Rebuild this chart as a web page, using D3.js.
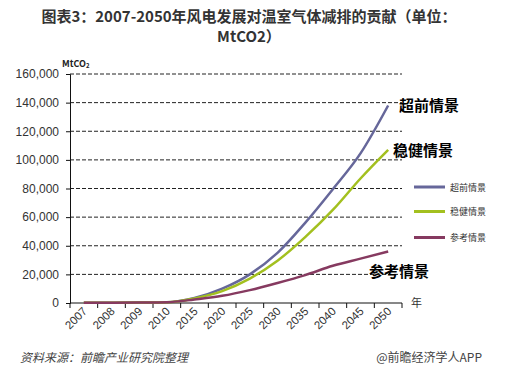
<!DOCTYPE html>
<html>
<head>
<meta charset="utf-8">
<script src="https://cdn.jsdelivr.net/npm/d3@7"></script>
<style>
  body { margin: 0; background: #fff; }
  text { font-family: "Noto Sans CJK SC", "Liberation Sans", sans-serif; }
</style>
</head>
<body>
<div id="chart"></div>
<script>
// data (MtCO2)
var years = ["2007","2008","2009","2010","2015","2020","2025","2030","2035","2040","2045","2050"];
var advanced = [100, 200, 300, 500, 3500, 10000, 20000, 35000, 56000, 79500, 104500, 138000];
var moderate = [100, 200, 300, 500, 3200, 8300, 17000, 29500, 46000, 65000, 87000, 107000];
var reference = [100, 200, 300, 500, 2500, 5000, 9000, 14000, 19500, 26000, 31000, 36000];
var seriesNames = ["超前情景", "稳健情景", "参考情景"];
var colors = ["#66679a", "#a3c01f", "#863a60"];
var yTicks = [0, 20000, 40000, 60000, 80000, 100000, 120000, 140000, 160000];

var W = 506, H = 384;
var svg = d3.select("#chart").append("svg")
    .attr("width", W).attr("height", H);

// title
svg.append("text")
    .attr("x", 249).attr("y", 22)
    .attr("text-anchor", "middle")
    .style("font-size", "15px").style("font-weight", "bold").style("fill", "#333")
    .text("图表3：2007-2050年风电发展对温室气体减排的贡献（单位：");
svg.append("text")
    .attr("x", 249).attr("y", 42)
    .attr("text-anchor", "middle")
    .style("font-size", "15px").style("font-weight", "bold").style("fill", "#333")
    .text("MtCO2）");

var x = d3.scaleBand().domain(years).range([70, 402]).padding(0);
var y = d3.scaleLinear().domain([0, 160000]).range([303, 74]);

// dashed grid
svg.append("g").selectAll("line")
    .data(yTicks.filter(function(d){ return d > 0; }))
    .enter().append("line")
    .attr("x1", 70).attr("x2", 402)
    .attr("y1", function(d){ return y(d); })
    .attr("y2", function(d){ return y(d); })
    .attr("stroke", "#222").attr("stroke-width", 1)
    .attr("stroke-dasharray", "4,2");

// y axis
var yAxis = svg.append("g")
    .attr("transform", "translate(70,0)")
    .call(d3.axisLeft(y).tickValues(yTicks).tickSize(4).tickPadding(7).tickFormat(d3.format(",")));
yAxis.select(".domain").attr("stroke", "#111");
yAxis.selectAll(".tick line").attr("stroke", "#111");
yAxis.selectAll("text")
    .style("font-family", "'Liberation Sans', Arial, sans-serif")
    .style("font-size", "12px").style("fill", "#333");

// x axis, ticks on band edges
var xAxis = svg.append("g").attr("transform", "translate(0,303)");
xAxis.append("line").attr("x1", 70).attr("x2", 402).attr("stroke", "#111");
xAxis.selectAll(".edge")
    .data(years.map(function(d){ return x(d); }).concat([x.range()[1]]))
    .enter().append("line")
    .attr("x1", function(d){ return d; }).attr("x2", function(d){ return d; })
    .attr("y1", 0).attr("y2", 5)
    .attr("stroke", "#111");
xAxis.selectAll(".lab")
    .data(years)
    .enter().append("text")
    .attr("transform", function(d){
        return "translate(" + (x(d) + x.bandwidth() / 2 + 4) + ",9) rotate(-45)";
    })
    .attr("text-anchor", "end")
    .style("font-family", "'Liberation Sans', Arial, sans-serif")
    .style("font-size", "11.5px").style("fill", "#333")
    .text(function(d){ return d; });

svg.append("text")
    .attr("x", 411).attr("y", 307)
    .style("font-size", "11px").style("fill", "#333")
    .text("年");

// unit label
var unit = svg.append("text")
    .attr("x", 62).attr("y", 67)
    .style("font-size", "9px").style("font-weight", "bold").style("fill", "#222");
unit.append("tspan").text("MtCO");
unit.append("tspan").attr("dy", 1).style("font-size", "6px").text("2");

// lines
var line = d3.line()
    .x(function(d, i){ return x(years[i]) + x.bandwidth() / 2; })
    .y(function(d){ return y(d); })
    .curve(d3.curveMonotoneX);

var allSeries = [advanced, moderate, reference];
svg.append("g").selectAll("path")
    .data(allSeries)
    .enter().append("path")
    .attr("d", line)
    .attr("fill", "none")
    .attr("stroke", function(d, i){ return colors[i]; })
    .attr("stroke-width", 2.5);

// line-end annotations
var annot = [[399, 111], [393, 156], [369, 277]];
svg.selectAll(".annot")
    .data(seriesNames)
    .enter().append("text")
    .attr("x", function(d, i){ return annot[i][0]; })
    .attr("y", function(d, i){ return annot[i][1]; })
    .style("font-size", "15px").style("font-weight", "bold").style("fill", "#000")
    .text(function(d){ return d; });

// legend
var legend = svg.append("g").selectAll("g")
    .data(seriesNames)
    .enter().append("g")
    .attr("transform", function(d, i){ return "translate(414," + [187, 211.5, 237.5][i] + ")"; });
legend.append("line")
    .attr("x1", 0).attr("x2", 31)
    .attr("stroke", function(d, i){ return colors[i]; })
    .attr("stroke-width", 3);
legend.append("text")
    .attr("x", 36).attr("y", 3.5)
    .style("font-size", "9px").style("fill", "#333")
    .text(function(d){ return d; });

// footer
svg.append("text")
    .attr("x", 20).attr("y", 362)
    .style("font-size", "12px").style("font-style", "italic").style("fill", "#444")
    .text("资料来源：前瞻产业研究院整理");
svg.append("text")
    .attr("x", 482).attr("y", 362)
    .attr("text-anchor", "end")
    .style("font-size", "12px").style("fill", "#444")
    .text("@前瞻经济学人APP");
</script>
</body>
</html>
